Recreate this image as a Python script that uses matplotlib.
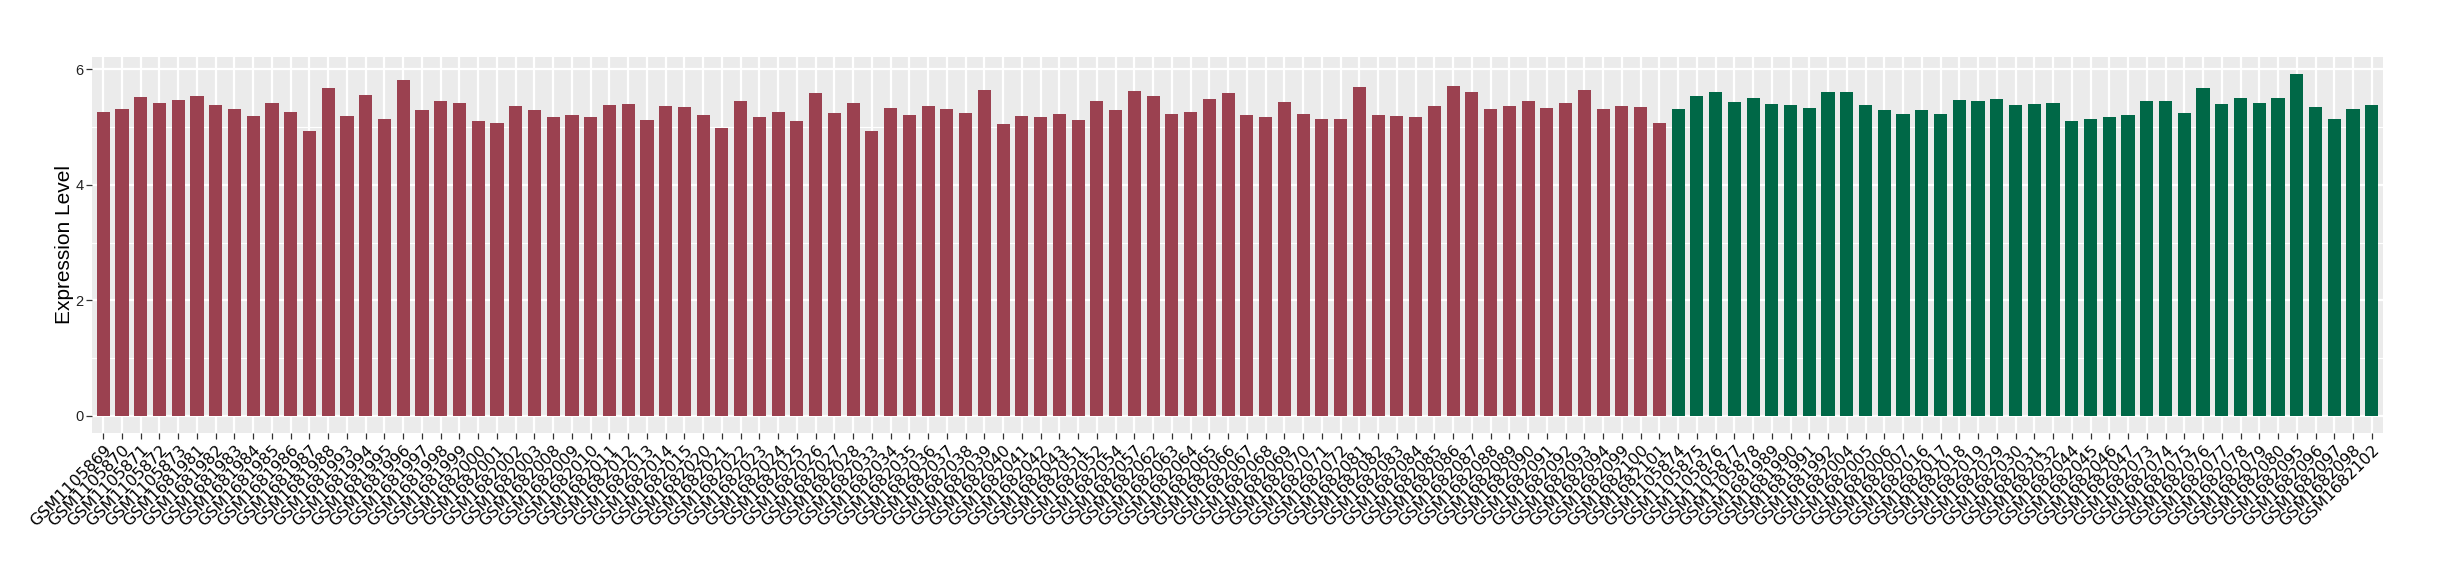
import matplotlib
matplotlib.use("Agg")
import numpy as np
import matplotlib.pyplot as plt
from matplotlib.ticker import MultipleLocator

# samples in group 1 (red) and group 2 (green)
red_samples = (
    ["GSM11058%d" % n for n in [69, 70, 71, 72, 73]]
    + ["GSM16819%d" % n for n in [81, 82, 83, 84, 85, 86, 87, 88, 93, 94, 95, 96, 97, 98, 99]]
    + ["GSM168%d" % n for n in [2000, 2001, 2002, 2003, 2008, 2009, 2010, 2011, 2012, 2013,
                                  2014, 2015, 2020, 2021, 2022, 2023, 2024, 2025, 2026, 2027,
                                  2028, 2033, 2034, 2035, 2036, 2037, 2038, 2039, 2040, 2041,
                                  2042, 2043, 2051, 2052, 2054, 2057, 2062, 2063, 2064, 2065,
                                  2066, 2067, 2068, 2069, 2070, 2071, 2072, 2081, 2082, 2083,
                                  2084, 2085, 2086, 2087, 2088, 2089, 2090, 2091, 2092, 2093,
                                  2094, 2099, 2100, 2101]]
)
red_values = [
    5.27, 5.32, 5.53, 5.42, 5.47, 5.54, 5.39, 5.32, 5.20, 5.42,
    5.27, 4.94, 5.68, 5.20, 5.56, 5.15, 5.82, 5.29, 5.46, 5.42,
    5.10, 5.08, 5.37, 5.29, 5.18, 5.22, 5.17, 5.39, 5.41, 5.13,
    5.37, 5.35, 5.22, 4.98, 5.46, 5.18, 5.27, 5.11, 5.59, 5.25,
    5.42, 4.94, 5.34, 5.22, 5.37, 5.32, 5.25, 5.65, 5.06, 5.20,
    5.18, 5.23, 5.13, 5.46, 5.30, 5.63, 5.54, 5.23, 5.27, 5.49,
    5.59, 5.22, 5.17, 5.44, 5.23, 5.15, 5.15, 5.70, 5.22, 5.20,
    5.18, 5.37, 5.71, 5.61, 5.32, 5.37, 5.46, 5.34, 5.42, 5.65,
    5.32, 5.37, 5.35, 5.08,
]

green_samples = (
    ["GSM11058%d" % n for n in [74, 75, 76, 77, 78]]
    + ["GSM16819%d" % n for n in [89, 90, 91, 92]]
    + ["GSM168%d" % n for n in [2004, 2005, 2006, 2007, 2016, 2017, 2018, 2019, 2029, 2030,
                                  2031, 2032, 2044, 2045, 2046, 2047, 2073, 2074, 2075, 2076,
                                  2077, 2078, 2079, 2080, 2095, 2096, 2097, 2098, 2102]]
)
green_values = [
    5.32, 5.54, 5.61, 5.44, 5.51, 5.41, 5.39, 5.34, 5.61, 5.61,
    5.39, 5.30, 5.23, 5.30, 5.23, 5.47, 5.46, 5.49, 5.38, 5.40,
    5.42, 5.10, 5.15, 5.17, 5.22, 5.46, 5.46, 5.25, 5.68, 5.40,
    5.50, 5.42, 5.50, 5.92, 5.35, 5.15, 5.31, 5.38,
]

RED = "#9B4150"
GREEN = "#006847"

samples = red_samples + green_samples
values = red_values + green_values
colors = [RED] * len(red_values) + [GREEN] * len(green_values)
x = np.arange(1, len(samples) + 1)

fig = plt.figure(figsize=(24.4, 5.8), dpi=100)
ax = fig.add_axes([92 / 2440, 1 - 433 / 580, (2383 - 92) / 2440, (433 - 57) / 580])

ax.set_facecolor("#EBEBEB")
ax.bar(x, values, width=0.7, color=colors, zorder=3)

ax.set_xlim(0.4, len(samples) + 0.6)
ax.set_ylim(-0.296, 6.216)
ax.yaxis.set_major_locator(MultipleLocator(2))
ax.yaxis.set_minor_locator(MultipleLocator(1))

ax.grid(which="major", axis="y", color="white", linewidth=1.6, zorder=1)
ax.grid(which="minor", axis="y", color="white", linewidth=0.8, zorder=1)
ax.grid(which="major", axis="x", color="white", linewidth=1.6, zorder=1)
for s in ax.spines.values():
    s.set_visible(False)

ax.set_xticks(x)
ax.set_xticklabels(samples, rotation=45, ha="right", rotation_mode="anchor",
                   fontsize=11.5, family="DejaVu Sans", color="black")
ax.tick_params(axis="x", length=4, width=0.9, color="#333333", pad=3)
ax.tick_params(axis="y", which="major", length=4, width=0.9, color="#333333",
               labelsize=10.5, labelcolor="#222222", pad=2)
ax.tick_params(axis="y", which="minor", length=0)
for lbl in ax.get_yticklabels():
    lbl.set_family("Liberation Sans")

ax.set_ylabel("Expression Level", fontsize=15, family="Liberation Sans", labelpad=1)

fig.savefig("out.png", dpi=100)
